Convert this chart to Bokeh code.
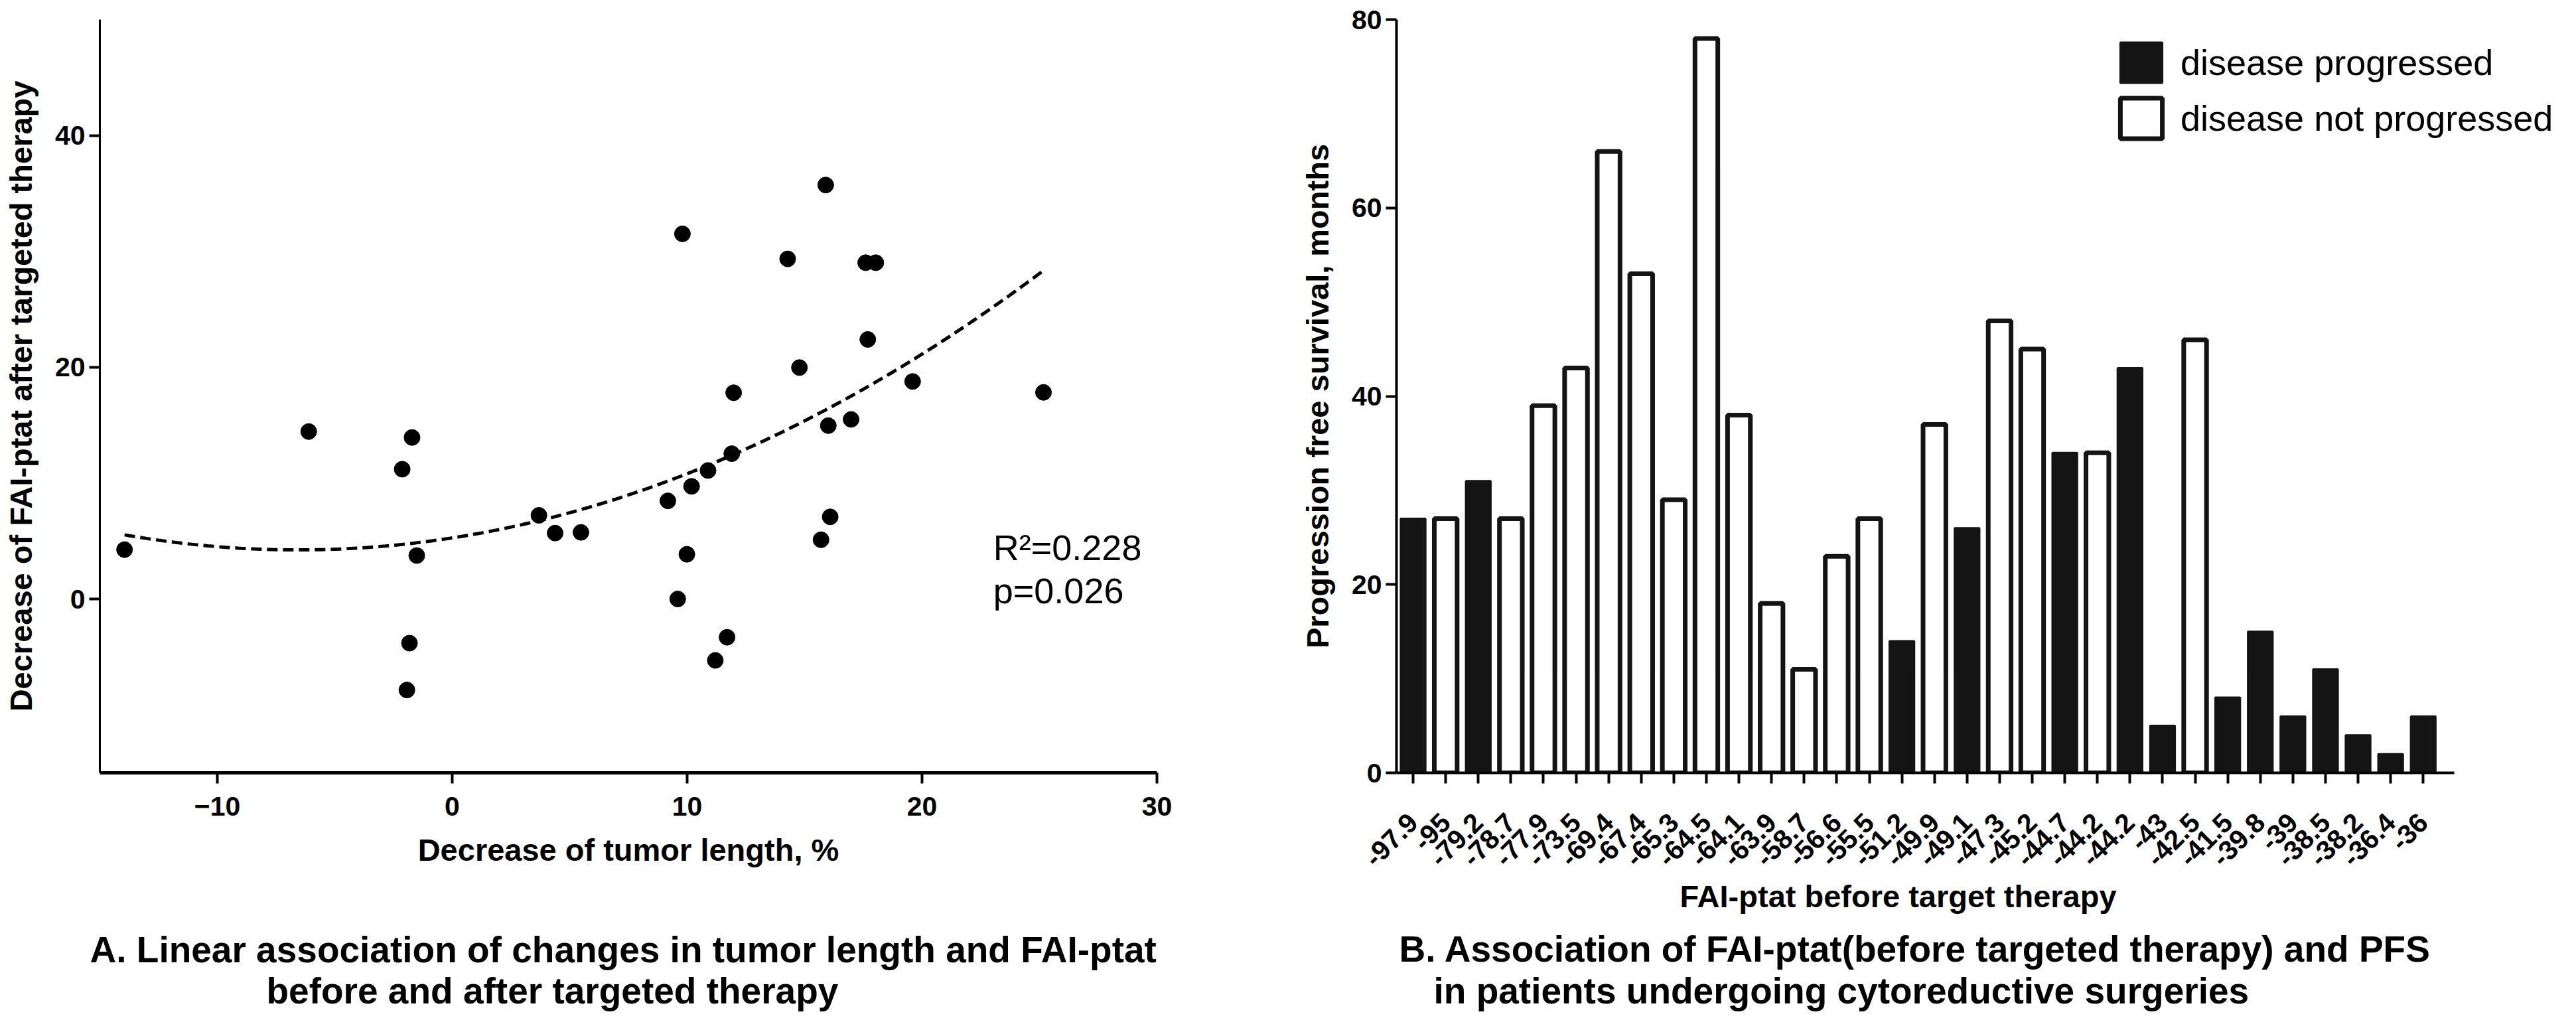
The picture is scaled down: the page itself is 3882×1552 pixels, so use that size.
import math
import numpy as np
from bokeh.plotting import figure
from bokeh.models import Range1d, FixedTicker, Label, Legend, LegendItem, ColumnDataSource, Title
from bokeh.layouts import row, column
from bokeh.embed import file_html
from bokeh.resources import INLINE

# ---------------- Panel A data ----------------
tumor_decrease = [-13.95, -6.11, -2.13, -1.71, -1.51, -1.82, -1.93, 3.69, 4.38, 5.48,
                  9.18, 9.60, 9.80, 9.99, 10.19, 10.89, 11.20, 11.70, 11.90, 11.98,
                  14.28, 14.78, 15.70, 15.90, 16.01, 16.09, 16.98, 17.60, 18.03, 17.69,
                  19.60, 25.17]
fai_decrease = [4.26, 14.45, 11.20, 13.94, 3.75, -3.81, -7.85, 7.22, 5.69, 5.75,
                8.47, 0.00, 31.51, 3.86, 9.72, 11.09, -5.30, -3.30, 12.54, 17.80,
                29.35, 19.97, 5.11, 35.72, 14.96, 7.09, 15.50, 29.02, 29.02, 22.40,
                18.77, 17.83]
a_xticks = [-10, 0, 10, 20, 30]
a_yticks = [0, 20, 40]
r2_text = "R\u00b2=0.228"
p_text = "p=0.026"

# ---------------- Panel B data ----------------
fai_before = ["-97.9", "-95", "-79.2", "-78.7", "-77.9", "-73.5", "-69.4", "-67.4",
              "-65.3", "-64.5", "-64.1", "-63.9", "-58.7", "-56.6", "-55.5", "-51.2",
              "-49.9", "-49.1", "-47.3", "-45.2", "-44.7", "-44.2", "-44.2", "-43",
              "-42.5", "-41.5", "-39.8", "-39", "-38.5", "-38.2", "-36.4", "-36"]
pfs_months = [27, 27, 31, 27, 39, 43, 66, 53, 29, 78, 38, 18, 11, 23, 27, 14,
              37, 26, 48, 45, 34, 34, 43, 5, 46, 8, 15, 6, 11, 4, 2, 6]
progressed = [1, 0, 1, 0, 0, 0, 0, 0, 0, 0, 0, 0, 0, 0, 0, 1,
              0, 1, 0, 0, 1, 0, 1, 1, 0, 1, 1, 1, 1, 1, 1, 1]
b_yticks = [0, 20, 40, 60, 80]

caption_a = ["A. Linear association of changes in tumor length and FAI-ptat",
             "before and after targeted therapy"]
caption_b = ["B. Association of FAI-ptat(before targeted therapy) and PFS",
             "in patients undergoing cytoreductive surgeries"]

FONT = "Liberation Sans"
TICK_SIZE = "41px"
TITLE_SIZE = "47px"
CAPTION_SIZE = "55px"
TOP_H = 1394
CAP_H = 142


def style_axes(p, xw, yw):
    p.outline_line_color = None
    p.xgrid.visible = False
    p.ygrid.visible = False
    p.background_fill_color = "white"
    p.border_fill_color = "white"
    for ax, w in ((p.xaxis, xw), (p.yaxis, yw)):
        ax.axis_line_width = w
        ax.axis_line_color = "black"
        ax.major_tick_line_width = 4
        ax.major_tick_line_color = "black"
        ax.major_tick_out = 16
        ax.major_tick_in = 0
        ax.minor_tick_line_color = None
        ax.major_label_text_font = FONT
        ax.major_label_text_font_size = TICK_SIZE
        ax.major_label_text_font_style = "bold"
        ax.major_label_text_color = "black"
        ax.axis_label_text_font = FONT
        ax.axis_label_text_font_size = TITLE_SIZE
        ax.axis_label_text_font_style = "bold"
        ax.axis_label_text_color = "black"


def add_text(p, x, y, text, size, bold=True):
    p.add_layout(Label(x=x, y=y, text=text, text_font=FONT, text_font_size=size,
                       text_font_style="bold" if bold else "normal",
                       text_baseline="middle", text_align="left", text_color="black"))


def caption_fig(width, lines, positions):
    c = figure(width=width, height=CAP_H, x_range=Range1d(0, width), y_range=Range1d(0, CAP_H),
               output_backend="svg", toolbar_location=None, min_border=0,
               x_axis_location=None, y_axis_location=None)
    c.frame_align = False
    c.outline_line_color = None
    c.grid.visible = False
    for txt, (x, y) in zip(lines, positions):
        add_text(c, x, y, txt, CAPTION_SIZE)
    return c


# ---------------- Panel A ----------------
p1 = figure(width=1920, height=TOP_H, x_range=Range1d(-15, 30), y_range=Range1d(-15, 50),
            output_backend="svg", toolbar_location=None,
            min_border_left=150, min_border_right=177, min_border_top=29,
            min_border_bottom=TOP_H - 29 - 1135)
p1.frame_align = False
style_axes(p1, 5, 3)
p1.xaxis.ticker = FixedTicker(ticks=a_xticks)
p1.yaxis.ticker = FixedTicker(ticks=a_yticks)
p1.xaxis.axis_label = "Decrease of tumor length, %"
p1.yaxis.axis_label = "Decrease of FAI-ptat after targeted therapy"
p1.xaxis.major_label_standoff = 20
p1.xaxis.axis_label_standoff = 22
p1.yaxis.major_label_standoff = 6
p1.yaxis.axis_label_standoff = 22

coef = np.polyfit(tumor_decrease, fai_decrease, 2)
fit_x = np.linspace(min(tumor_decrease), max(tumor_decrease), 300)
fit_y = np.polyval(coef, fit_x)
p1.line(fit_x, fit_y, line_color="black", line_width=5, line_dash="16 8")
p1.scatter(tumor_decrease, fai_decrease, size=24, fill_color="black", line_color="black")

add_text(p1, 23.03, 4.46, r2_text, "54px", bold=False)
add_text(p1, 23.03, 0.72, p_text, "54px", bold=False)

c1 = caption_fig(1920, caption_a, [(135, 106), (401, 44)])

# ---------------- Panel B ----------------
idx = list(range(len(fai_before)))
src_prog = ColumnDataSource(dict(x=[i for i in idx if progressed[i]],
                                 top=[pfs_months[i] for i in idx if progressed[i]]))
src_not = ColumnDataSource(dict(x=[i for i in idx if not progressed[i]],
                                top=[pfs_months[i] for i in idx if not progressed[i]]))

p2 = figure(width=1938, height=TOP_H, x_range=Range1d(-0.51, 35.21), y_range=Range1d(0, 80),
            output_backend="svg", toolbar_location=None,
            min_border_left=184, min_border_right=0, min_border_top=29,
            min_border_bottom=TOP_H - 29 - 1135)
p2.frame_align = False
style_axes(p2, 4, 4)
p2.xaxis.bounds = (-0.51, 31.95)
p2.xaxis.ticker = FixedTicker(ticks=idx)
p2.xaxis.major_label_overrides = {i: lab for i, lab in zip(idx, fai_before)}
p2.xaxis.major_label_orientation = math.pi / 4
p2.xaxis.major_label_standoff = 52
p2.yaxis.ticker = FixedTicker(ticks=b_yticks)
p2.yaxis.major_label_standoff = 6
p2.yaxis.axis_label_standoff = 22
p2.yaxis.axis_label = "Progression free survival, months"
p2.add_layout(Title(text="FAI-ptat before target therapy", align="left", offset=427, standoff=0,
                    text_font=FONT, text_font_size=TITLE_SIZE, text_font_style="bold",
                    text_color="black"), "below")

r_prog = p2.vbar(x="x", top="top", bottom=0, width=0.76, source=src_prog,
                 fill_color="#141414", line_color="#141414", line_width=3)
r_not = p2.vbar(x="x", top="top", bottom=0, width=0.70, source=src_not,
                fill_color="white", line_color="#141414", line_width=7)

legend = Legend(items=[LegendItem(label="disease progressed", renderers=[r_prog]),
                       LegendItem(label="disease not progressed", renderers=[r_not])],
                location=(1083, 948), glyph_width=79, glyph_height=76, label_height=76,
                label_width=10, spacing=8, padding=0, margin=0, label_standoff=20,
                border_line_color=None, background_fill_alpha=0,
                label_text_font=FONT, label_text_font_size="54px", label_text_color="black",
                label_text_baseline="middle")
p2.add_layout(legend)

c2 = caption_fig(1938, caption_b, [(188, 107), (240, 44)])

layout = row(column(p1, c1), column(p2, c2))
open("out.html", "w").write(file_html(layout, INLINE))
